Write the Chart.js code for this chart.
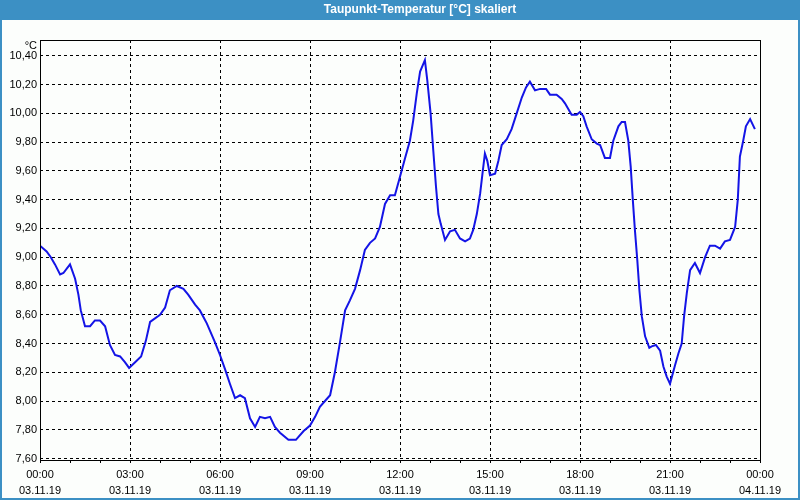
<!DOCTYPE html>
<html>
<head>
<meta charset="utf-8">
<script src="https://cdn.jsdelivr.net/npm/chart.js@4.4.0/dist/chart.umd.min.js"></script>
<style>
    body { margin: 0; background: #fcfefc; }
</style>
</head>
<body>
<canvas id="graficaTaupunkt" width="800" height="500"></canvas>
<script>
const titulo = "Taupunkt-Temperatur [°C] skaliert";
const einheit = "°C";

// Zeit in Stunden ab 03.11.19 00:00
const stunden = [
    0.00, 0.22, 0.36, 0.50, 0.67, 0.78, 1.00, 1.17, 1.28, 1.36, 1.50, 1.67, 1.83, 2.00,
    2.17, 2.33, 2.50, 2.67, 2.83, 2.97, 3.17, 3.37, 3.53, 3.67, 4.00, 4.17, 4.33, 4.56,
    4.78, 4.94, 5.17, 5.33, 5.56, 5.83, 6.00, 6.17, 6.33, 6.50, 6.67, 6.83, 7.00, 7.17,
    7.33, 7.50, 7.67, 7.83, 8.00, 8.28, 8.53, 8.78, 9.00, 9.17, 9.33, 9.50, 9.67, 9.83,
    10.00, 10.17, 10.33, 10.50, 10.67, 10.83, 11.00, 11.17, 11.33, 11.50, 11.67, 11.83,
    12.00, 12.17, 12.33, 12.44, 12.56, 12.67, 12.83, 12.91, 13.02, 13.11, 13.20, 13.28,
    13.36, 13.50, 13.67, 13.83, 14.00, 14.17, 14.33, 14.44, 14.56, 14.67, 14.76, 14.83,
    14.91, 15.00, 15.17, 15.28, 15.39, 15.56, 15.72, 15.89, 16.06, 16.20, 16.33, 16.50,
    16.67, 16.87, 17.00, 17.22, 17.39, 17.50, 17.72, 17.89, 18.00, 18.11, 18.22, 18.39,
    18.56, 18.67, 18.83, 19.00, 19.11, 19.28, 19.39, 19.50, 19.61, 19.69, 19.76, 19.83,
    19.91, 19.98, 20.06, 20.17, 20.31, 20.39, 20.53, 20.67, 20.78, 20.89, 21.00, 21.17,
    21.28, 21.39, 21.47, 21.56, 21.67, 21.83, 22.00, 22.17, 22.33, 22.50, 22.67, 22.83,
    23.00, 23.17, 23.26, 23.33, 23.44, 23.53, 23.67, 23.83
];

const taupunkt = [
    9.08, 9.04, 9.00, 8.95, 8.88, 8.89, 8.95, 8.85, 8.74, 8.63, 8.52, 8.52, 8.56, 8.56,
    8.52, 8.39, 8.32, 8.31, 8.27, 8.23, 8.27, 8.31, 8.42, 8.55, 8.60, 8.65, 8.77, 8.80,
    8.78, 8.74, 8.67, 8.63, 8.54, 8.41, 8.32, 8.22, 8.12, 8.02, 8.04, 8.02, 7.88, 7.82,
    7.89, 7.88, 7.89, 7.82, 7.78, 7.73, 7.73, 7.79, 7.83, 7.89, 7.96, 8.00, 8.04, 8.20,
    8.41, 8.63, 8.70, 8.78, 8.91, 9.05, 9.10, 9.13, 9.21, 9.37, 9.43, 9.43,
    9.56, 9.69, 9.81, 9.95, 10.14, 10.29, 10.37, 10.23, 10.00, 9.74, 9.49, 9.30,
    9.23, 9.12, 9.18, 9.19, 9.13, 9.11, 9.13, 9.19, 9.30, 9.44, 9.60, 9.72,
    9.67, 9.57, 9.58, 9.67, 9.78, 9.82, 9.89, 10.00, 10.11, 10.18, 10.22, 10.16,
    10.17, 10.17, 10.13, 10.13, 10.10, 10.07, 9.99, 9.99, 10.01, 9.98, 9.91, 9.82,
    9.79, 9.78, 9.69, 9.69, 9.81, 9.91, 9.94, 9.94, 9.81, 9.63, 9.40, 9.19,
    8.98, 8.77, 8.59, 8.45, 8.37, 8.38, 8.39, 8.35, 8.24, 8.17, 8.12, 8.25,
    8.33, 8.40, 8.59, 8.75, 8.91, 8.96, 8.89, 9.00, 9.08, 9.08, 9.06, 9.11,
    9.12, 9.21, 9.40, 9.70, 9.81, 9.91, 9.96, 9.89
];

const zeitLabels = ["00:00", "03:00", "06:00", "09:00", "12:00", "15:00", "18:00", "21:00", "00:00"];
const datumLabels = ["03.11.19", "03.11.19", "03.11.19", "03.11.19", "03.11.19", "03.11.19", "03.11.19", "03.11.19", "04.11.19"];

const fenster = {
    id: "fenster",
    beforeDraw(chart) {
        const { ctx, width, height } = chart;
        ctx.save();
        ctx.fillStyle = "#fcfefc";
        ctx.fillRect(0, 0, width, height);
        ctx.fillStyle = "#3c90c4";
        ctx.fillRect(0, 0, width, 20);
        ctx.fillStyle = "#ffffff";
        ctx.font = 'bold 12px "Liberation Sans"';
        ctx.textAlign = "center";
        ctx.textBaseline = "middle";
        ctx.fillText(titulo, 420, 10);
        ctx.strokeStyle = "#3c90c4";
        ctx.lineWidth = 2;
        ctx.strokeRect(1, 1, width - 2, height - 2);
        ctx.restore();
    },
    afterDraw(chart) {
        const { ctx, chartArea } = chart;
        ctx.save();
        ctx.strokeStyle = "#000";
        ctx.lineWidth = 1;
        ctx.strokeRect(
            Math.round(chartArea.left) + 0.5,
            Math.round(chartArea.top) + 0.5,
            Math.round(chartArea.right - chartArea.left),
            Math.round(chartArea.bottom - chartArea.top)
        );
        ctx.fillStyle = "#000";
        ctx.font = '11px "Liberation Sans"';
        ctx.textAlign = "right";
        ctx.textBaseline = "middle";
        ctx.fillText(einheit, chartArea.left - 3, chartArea.top + 6);
        ctx.restore();
    },
};

const ctx = document.getElementById("graficaTaupunkt");
new Chart(ctx, {
    type: "line",
    data: {
        datasets: [
            {
                data: stunden.map((h, i) => ({ x: h, y: taupunkt[i] })),
                borderColor: "#1414e6",
                borderWidth: 2,
                pointRadius: 0,
                tension: 0,
                fill: false,
            },
        ],
    },
    options: {
        responsive: false,
        animation: false,
        layout: { padding: { top: 40, right: 40, left: 0, bottom: 0 } },
        plugins: { legend: { display: false }, tooltip: { enabled: false } },
        scales: {
            x: {
                type: "linear",
                min: 0,
                max: 24,
                afterFit: (scale) => { scale.height = 40; },
                border: { display: false, dash: [3, 3] },
                grid: {
                    color: (c) => (c.tick && c.tick.value % 3 === 0 && c.tick.value > 0 && c.tick.value < 24 ? "#000" : "rgba(0,0,0,0)"),
                    tickColor: "#000",
                    tickLength: 3,
                    lineWidth: 1,
                },
                ticks: {
                    stepSize: 1,
                    autoSkip: false,
                    maxRotation: 0,
                    padding: 4,
                    color: "#000",
                    font: { family: "Liberation Sans", size: 11, lineHeight: 1.45 },
                    callback: (v) => (v % 3 === 0 ? [zeitLabels[v / 3], datumLabels[v / 3]] : ""),
                },
            },
            y: {
                min: 7.59,
                max: 10.51,
                afterFit: (scale) => { scale.width = 40; },
                border: { display: false, dash: [3, 3] },
                grid: { color: "#000", drawTicks: false, lineWidth: 1 },
                ticks: {
                    stepSize: 0.2,
                    includeBounds: false,
                    padding: 3,
                    color: "#000",
                    font: { family: "Liberation Sans", size: 11 },
                    callback: (v) => v.toFixed(2).replace(".", ","),
                },
            },
        },
    },
    plugins: [fenster],
});
</script>
</body>
</html>
